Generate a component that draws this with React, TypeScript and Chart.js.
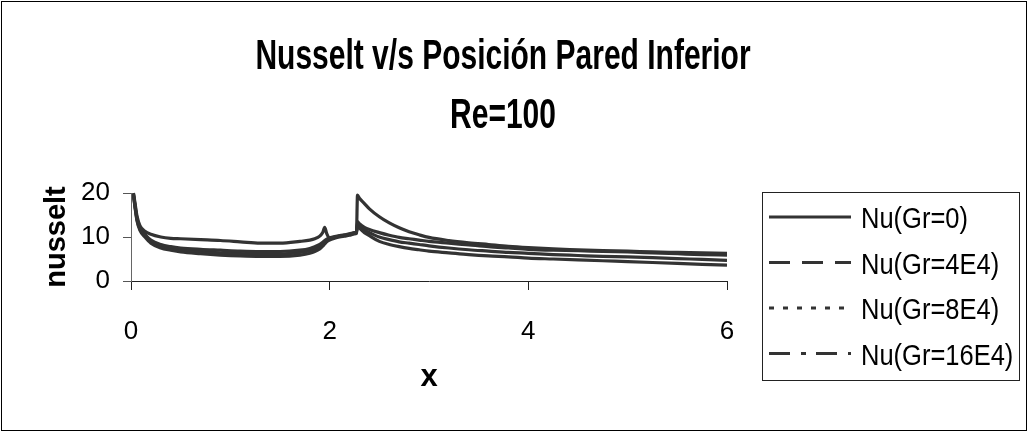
import React, { useEffect, useRef } from 'react';
import { Chart, registerables } from 'chart.js';

Chart.register(...registerables);

const TITLE_LINES = ['Nusselt v/s Posición Pared Inferior', 'Re=100'];
const X_TITLE = 'x';
const Y_TITLE = 'nusselt';
const SERIES_LABELS = ['Nu(Gr=0)', 'Nu(Gr=4E4)', 'Nu(Gr=8E4)', 'Nu(Gr=16E4)'];
const LEGEND_DASHES = [[], [21, 12], [5, 9], [21, 11, 5, 10]];

const xPositions = [
  0.025, 0.04, 0.06, 0.09, 0.14, 0.2, 0.3, 0.4, 0.5, 0.7, 0.9, 1.1, 1.3, 1.5, 1.7, 1.8, 1.85, 1.9, 1.93, 1.95,
  1.97, 2.0, 2.05, 2.1, 2.15, 2.2, 2.25, 2.27, 2.28, 2.3, 2.35, 2.4, 2.5, 2.6, 2.7, 2.8, 2.9, 3.0, 3.2, 3.4,
  3.6, 3.8, 4.0, 4.25, 4.5, 4.75, 5.0, 5.25, 5.5, 5.75, 6.0,
];

const nuGr0 = [
  20, 17.8, 14.8, 12.6, 11.3, 10.6, 10.0, 9.7, 9.6, 9.4, 9.2, 8.9, 8.6, 8.6, 9.0, 9.3, 9.6, 10.2, 11.0, 12.2,
  10.8, 9.7, 10.0, 10.2, 10.4, 10.6, 10.9, 11.3, 12.5, 12.0, 11.0, 10.3, 9.0, 8.3, 7.8, 7.4, 7.1, 6.8, 6.4, 6.0,
  5.7, 5.5, 5.2, 5.0, 4.8, 4.6, 4.4, 4.2, 4.0, 3.8, 3.6,
];
const nuGr4E4 = [
  19.8, 17.3, 14.3, 12.1, 10.6, 9.3, 8.3, 7.8, 7.5, 7.2, 7.0, 6.8, 6.7, 6.7, 7.0, 7.4, 7.8, 8.3, 8.8, 9.2,
  9.5, 9.8, 10.1, 10.3, 10.5, 10.7, 11.0, 11.2, 13.0, 12.5, 11.6, 11.0, 10.0, 9.4, 8.9, 8.6, 8.3, 8.0, 7.5, 7.1,
  6.8, 6.5, 6.3, 6.0, 5.8, 5.6, 5.5, 5.3, 5.1, 4.9, 4.7,
];
const nuGr8E4 = [
  19.6, 17.0, 14.0, 11.8, 10.3, 9.0, 7.9, 7.4, 7.1, 6.7, 6.4, 6.2, 6.1, 6.1, 6.5, 6.9, 7.3, 7.8, 8.4, 8.8,
  9.2, 9.6, 9.9, 10.2, 10.4, 10.6, 10.9, 11.0, 19.5, 18.8, 17.6, 16.4, 14.6, 13.2, 12.1, 11.2, 10.5, 9.9, 9.2, 8.7,
  8.3, 7.9, 7.6, 7.3, 7.1, 6.9, 6.8, 6.6, 6.5, 6.4, 6.3,
];
const nuGr16E4 = [
  19.4, 16.8, 13.7, 11.5, 10.0, 8.6, 7.5, 7.0, 6.6, 6.2, 5.9, 5.7, 5.6, 5.6, 5.9, 6.3, 6.7, 7.3, 7.9, 8.4,
  8.9, 9.3, 9.7, 10.0, 10.2, 10.4, 10.7, 10.8, 13.5, 13.0, 12.2, 11.7, 11.0, 10.4, 9.9, 9.6, 9.3, 9.0, 8.6, 8.2,
  7.8, 7.5, 7.2, 7.0, 6.9, 6.7, 6.6, 6.4, 6.2, 6.0, 5.9,
];

const SERIES_VALUES = [nuGr0, nuGr4E4, nuGr8E4, nuGr16E4];
const X_MIN = 0;
const X_MAX = 6;
const X_STEP = 2;
const Y_MIN = 0;
const Y_MAX = 20;
const Y_STEP = 10;

const FONT = '"Liberation Sans", Arial, sans-serif';
const LINE_COLOR = '#333333';

const stretchedTitle = {
  id: 'stretchedTitle',
  afterDraw(chart: any) {
    const ctx = chart.ctx;
    const baselines = [69, 128];
    ctx.save();
    ctx.fillStyle = '#000';
    ctx.font = `bold 30px ${FONT}`;
    ctx.textAlign = 'center';
    ctx.textBaseline = 'alphabetic';
    TITLE_LINES.forEach((t, i) => {
      ctx.save();
      ctx.translate(503, baselines[i]);
      ctx.scale(1, 1.44);
      ctx.fillText(t, 0, 0);
      ctx.restore();
    });
    ctx.restore();
  },
};

const boxedLegend = {
  id: 'boxedLegend',
  afterDraw(chart: any) {
    const ctx = chart.ctx;
    ctx.save();
    ctx.strokeStyle = '#222';
    ctx.lineWidth = 1;
    ctx.strokeRect(762.5, 192.5, 257, 188);
    chart.data.datasets.forEach((ds: any, i: number) => {
      const cy = 217 + i * 45.5;
      ctx.save();
      ctx.strokeStyle = LINE_COLOR;
      ctx.lineWidth = 3;
      ctx.lineCap = 'butt';
      ctx.setLineDash(ds.legendDash || []);
      ctx.beginPath();
      ctx.moveTo(769, cy);
      ctx.lineTo(851, cy);
      ctx.stroke();
      ctx.restore();
      ctx.save();
      ctx.fillStyle = '#000';
      ctx.font = `25.5px ${FONT}`;
      ctx.textAlign = 'left';
      ctx.textBaseline = 'alphabetic';
      ctx.translate(861, cy + 11);
      ctx.scale(1, 1.16);
      ctx.fillText(ds.label, 0, 0);
      ctx.restore();
    });
    ctx.strokeStyle = '#000';
    ctx.lineWidth = 1;
    ctx.strokeRect(1.5, 1.5, 1025, 429);
    ctx.restore();
  },
};

export default function App() {
  const canvasRef = useRef<HTMLCanvasElement | null>(null);

  useEffect(() => {
    if (!canvasRef.current) return;
    const datasets = SERIES_LABELS.map((label, i) => ({
      label,
      data: xPositions.map((x, j) => ({ x, y: SERIES_VALUES[i][j] })),
      borderColor: LINE_COLOR,
      backgroundColor: LINE_COLOR,
      borderWidth: 3.2,
      pointRadius: 0,
      pointHoverRadius: 0,
      fill: false,
      tension: 0,
      cubicInterpolationMode: 'monotone' as const,
      clip: false as any,
      legendDash: LEGEND_DASHES[i],
    }));

    const chart = new Chart(canvasRef.current, {
      type: 'line',
      data: { datasets: datasets as any },
      options: {
        animation: false,
        responsive: true,
        maintainAspectRatio: false,
        devicePixelRatio: 1,
        events: [],
        layout: { padding: { left: 0, top: 193, right: 302, bottom: 0 } },
        plugins: {
          legend: { display: false },
          title: { display: false },
          tooltip: { enabled: false },
        },
        scales: {
          x: {
            type: 'linear',
            min: X_MIN,
            max: X_MAX,
            afterFit: (scale: any) => {
              scale.height = 152;
            },
            ticks: {
              stepSize: X_STEP,
              color: '#000',
              padding: 26,
              maxRotation: 0,
              font: { family: FONT, size: 26 },
            },
            grid: { display: true, drawOnChartArea: false, drawTicks: true, tickLength: 9, color: '#222' },
            border: { display: true, color: '#222', width: 1 },
            title: {
              display: true,
              text: X_TITLE,
              color: '#000',
              font: { family: FONT, size: 31, weight: 'bold' },
              padding: { top: 0, bottom: 37 },
            },
          },
          y: {
            type: 'linear',
            min: Y_MIN,
            max: Y_MAX,
            afterFit: (scale: any) => {
              scale.width = 131;
            },
            ticks: {
              stepSize: Y_STEP,
              color: '#000',
              padding: 13,
              font: { family: FONT, size: 26 },
            },
            grid: { display: true, drawOnChartArea: false, drawTicks: true, tickLength: 8, color: '#555' },
            border: { display: true, color: '#666', width: 1 },
            title: {
              display: true,
              text: Y_TITLE,
              color: '#000',
              font: { family: FONT, size: 29, weight: 'bold' },
              padding: { top: 40, bottom: 0 },
            },
          },
        },
      },
      plugins: [stretchedTitle, boxedLegend],
    });
    return () => chart.destroy();
  }, []);

  return (
    <div style={{ position: 'absolute', left: 0, top: 0, width: 1029, height: 433, background: '#fff' }}>
      <canvas ref={canvasRef} />
    </div>
  );
}
